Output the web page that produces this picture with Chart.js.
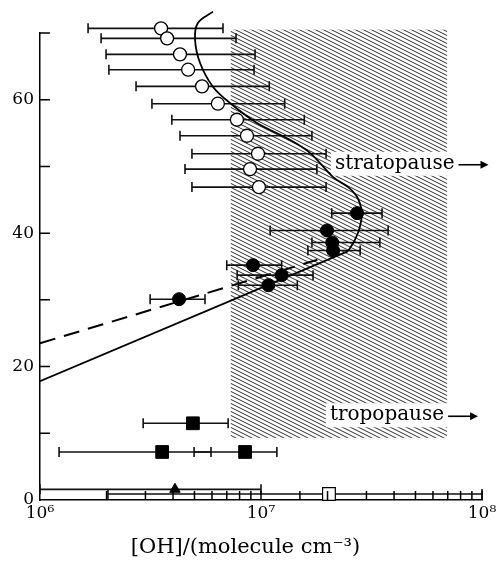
<!DOCTYPE html>
<html lang="en">
<head>
  <meta charset="UTF-8" />
  <title>OH profile</title>
  <script src="https://cdn.jsdelivr.net/npm/chart.js"></script>
  <style>
    body { margin: 0; background: #fff; }
  </style>
</head>
<body>
  <canvas id="ohChart" width="500" height="564"></canvas>
  <script>
    // open circles (upper stratosphere / mesosphere)
    const openX  = [3.53e6, 3.76e6, 4.30e6, 4.68e6, 5.41e6, 6.38e6, 7.78e6, 8.64e6, 9.69e6, 8.92e6, 9.79e6];
    const openY  = [70.7, 69.2, 66.8, 64.5, 62.0, 59.4, 57.0, 54.6, 51.9, 49.6, 46.9];
    const openLo = [1.65e6, 1.89e6, 1.99e6, 2.05e6, 2.72e6, 3.21e6, 3.95e6, 4.30e6, 4.87e6, 4.53e6, 4.87e6];
    const openHi = [6.73e6, 7.71e6, 9.4e6, 9.3e6, 1.09e7, 1.28e7, 1.57e7, 1.70e7, 1.97e7, 1.79e7, 1.97e7];

    // filled circles
    const fullX  = [2.72e7, 1.99e7, 2.10e7, 2.12e7, 9.2e6, 1.24e7, 1.08e7, 4.26e6];
    const fullY  = [43.0, 40.4, 38.6, 37.4, 35.2, 33.7, 32.2, 30.1];
    const fullLo = [2.09e7, 1.10e7, 1.70e7, 1.63e7, 7.0e6, 7.8e6, 7.9e6, 3.15e6];
    const fullHi = [3.53e7, 3.76e7, 3.45e7, 2.81e7, 1.24e7, 1.72e7, 1.46e7, 5.58e6];

    // filled squares (troposphere)
    const sqX  = [4.92e6, 3.57e6, 8.47e6];
    const sqY  = [11.5, 7.2, 7.2];
    const sqLo = [2.93e6, 1.22e6, 4.98e6];
    const sqHi = [7.1e6, 5.94e6, 1.18e7];

    // ground level: triangle and open square
    const triX = [4.08e6], triY = [1.6], triLo = [1.0e6], triHi = [1.0e7];
    const osqX = [2.03e7], osqY = [0.9], osqLo = [2.03e6], osqHi = [1.0e8];

    // model curves: straight lower part, then the bend up to the mesosphere
    const lineX = [1e6, 2.48e7];
    const lineY = [17.8, 37.3];
    const curveX = [2.48e7, 2.66e7, 2.80e7, 2.86e7, 2.80e7, 2.69e7, 2.48e7, 2.12e7, 1.67e7,
                    1.35e7, 9.59e6, 7.24e6, 6.07e6, 5.30e6, 5.03e6, 5.18e6, 6.07e6];
    const curveY = [37.3, 39.0, 40.9, 43.0, 44.5, 45.7, 46.9, 48.4, 52.0,
                    54.0, 56.5, 59.5, 61.9, 65.5, 69.0, 71.5, 73.2];
    const dashX = [1e6, 1.8e7];
    const dashY = [23.5, 36.0];

    // shaded band
    const bandX = [7.3e6, 6.95e7];
    const bandY = [9.3, 70.5];

    const SERIF = '"DejaVu Serif", "Liberation Serif", serif';
    const pts = (xs, ys) => xs.map((v, i) => ({ x: v, y: ys[i] }));
    const sup = { 6: '⁶', 7: '⁷', 8: '⁸' };

    function hatchPattern(ctx) {
      const c = document.createElement('canvas');
      c.width = 8; c.height = 4;
      const g = c.getContext('2d');
      g.strokeStyle = '#222';
      g.lineWidth = 0.95;
      g.beginPath();
      [-4, 0, 4].forEach(k => {
        g.moveTo(-2, -1 + k); g.lineTo(10, 5 + k);
      });
      g.stroke();
      return ctx.createPattern(c, 'repeat');
    }

    function arrow(ctx, x0, x1, y) {
      ctx.beginPath();
      ctx.moveTo(x0, y); ctx.lineTo(x1 - 6, y);
      ctx.stroke();
      ctx.beginPath();
      ctx.moveTo(x1, y); ctx.lineTo(x1 - 8, y - 4); ctx.lineTo(x1 - 8, y + 4);
      ctx.closePath(); ctx.fill();
    }

    const hatch = {
      id: 'hatch',
      beforeDatasetsDraw(chart) {
        const { ctx, scales: { x, y } } = chart;
        const x0 = x.getPixelForValue(bandX[0]), x1 = x.getPixelForValue(bandX[1]);
        const y0 = y.getPixelForValue(bandY[1]), y1 = y.getPixelForValue(bandY[0]);
        ctx.save();
        ctx.fillStyle = hatchPattern(ctx);
        ctx.fillRect(x0, y0, x1 - x0, y1 - y0);

        // labels
        ctx.font = '20px ' + SERIF;
        ctx.textBaseline = 'middle';
        [['stratopause', 2.16e7, 50.4], ['tropopause', 2.05e7, 12.7]].forEach(([t, vx, vy]) => {
          const px = x.getPixelForValue(vx), py = y.getPixelForValue(vy);
          const w = ctx.measureText(t).width;
          ctx.fillStyle = '#fff';
          ctx.fillRect(px - 4, py - 12, w + 8, 24);
          ctx.fillStyle = '#000';
          ctx.fillText(t, px, py);
          ctx.strokeStyle = '#000';
          ctx.lineWidth = 1.6;
          arrow(ctx, px + w + 4, px + w + 34, py + 1);
        });
        ctx.restore();
      }
    };

    const errorBars = {
      id: 'errorBars',
      beforeDatasetsDraw(chart) {
        const { ctx, scales: { x, y } } = chart;
        ctx.save();
        ctx.strokeStyle = '#111';
        ctx.lineWidth = 1.6;
        chart.data.datasets.forEach(ds => {
          if (!ds.lo) return;
          ds.data.forEach((p, i) => {
            const py = y.getPixelForValue(p.y);
            const x0 = x.getPixelForValue(ds.lo[i]);
            const x1 = x.getPixelForValue(ds.hi[i]);
            ctx.beginPath();
            ctx.moveTo(x0, py); ctx.lineTo(x1, py);
            ctx.moveTo(x0, py - 5); ctx.lineTo(x0, py + 5);
            ctx.moveTo(x1, py - 5); ctx.lineTo(x1, py + 5);
            ctx.stroke();
          });
        });
        ctx.restore();
      }
    };

    // inward ticks and the x-axis title (centred a little left of the plot centre)
    const axisExtras = {
      id: 'axisExtras',
      afterDraw(chart) {
        const { ctx, chartArea: a, scales: { x, y } } = chart;
        ctx.save();
        ctx.strokeStyle = '#000';
        ctx.lineWidth = 1.5;
        ctx.beginPath();
        y.ticks.forEach(t => {
          if (t.value <= 0) return;
          const py = y.getPixelForValue(t.value);
          ctx.moveTo(a.left, py); ctx.lineTo(a.left + 10, py);
        });
        x.ticks.forEach(t => {
          if (t.value <= 1e6) return;
          const px = x.getPixelForValue(t.value);
          ctx.moveTo(px, a.bottom); ctx.lineTo(px, a.bottom - 9);
        });
        ctx.stroke();

        ctx.fillStyle = '#000';
        ctx.font = '21px ' + SERIF;
        ctx.textAlign = 'center';
        ctx.textBaseline = 'middle';
        ctx.fillText('[OH]/(molecule cm⁻³)', x.getPixelForValue(8.5e6), a.bottom + 48);
        ctx.restore();
      }
    };

    const ctx = document.getElementById('ohChart').getContext('2d');
    new Chart(ctx, {
      type: 'scatter',
      data: {
        datasets: [
          {
            type: 'line', data: pts(lineX, lineY), borderColor: '#000', borderWidth: 1.8,
            pointRadius: 0, tension: 0
          },
          {
            type: 'line', data: pts(curveX, curveY), borderColor: '#000', borderWidth: 1.8,
            pointRadius: 0, tension: 0.35, clip: false
          },
          {
            type: 'line', data: pts(dashX, dashY), borderColor: '#000', borderWidth: 2,
            borderDash: [16, 9], pointRadius: 0, clip: false
          },
          {
            data: pts(openX, openY), lo: openLo, hi: openHi, pointStyle: 'circle', pointRadius: 6.5,
            backgroundColor: '#fff', borderColor: '#000', borderWidth: 1.3, clip: false
          },
          {
            data: pts(fullX, fullY), lo: fullLo, hi: fullHi, pointStyle: 'circle', pointRadius: 6.5,
            backgroundColor: '#000', borderColor: '#000', borderWidth: 1, clip: false
          },
          {
            data: pts(sqX, sqY), lo: sqLo, hi: sqHi, pointStyle: 'rect', pointRadius: 9,
            backgroundColor: '#000', borderColor: '#000', borderWidth: 1
          },
          {
            data: pts(triX, triY), lo: triLo, hi: triHi, pointStyle: 'triangle', pointRadius: 6,
            backgroundColor: '#000', borderColor: '#000', borderWidth: 1, clip: false
          },
          {
            data: pts(osqX, osqY), lo: osqLo, hi: osqHi, pointStyle: 'rect', pointRadius: 9,
            backgroundColor: '#fff', borderColor: '#000', borderWidth: 1.2, clip: false
          }
        ]
      },
      options: {
        responsive: false,
        animation: false,
        layout: { padding: { top: 33, right: 18, left: 0, bottom: 0 } },
        plugins: { legend: { display: false }, tooltip: { enabled: false } },
        scales: {
          x: {
            type: 'logarithmic',
            min: 1e6,
            max: 1e8,
            afterFit: s => { s.height = 64; },
            grid: { display: false, drawTicks: false },
            border: { display: true, color: '#000', width: 1.5 },
            ticks: {
              autoSkip: false,
              maxRotation: 0,
              padding: 3,
              color: '#000',
              font: { family: SERIF, size: 17 },
              callback: v => {
                const e = Math.log10(v);
                return Math.abs(e - Math.round(e)) < 1e-9 ? '10' + sup[Math.round(e)] : '';
              }
            }
          },
          y: {
            min: 0,
            max: 70,
            afterFit: s => { s.width = 40; },
            grid: { display: false, drawTicks: false },
            border: { display: true, color: '#000', width: 1.5 },
            ticks: {
              stepSize: 10,
              padding: 6,
              color: '#000',
              font: { family: SERIF, size: 17 },
              callback: v => (v % 20 === 0 ? v : '')
            }
          }
        }
      },
      plugins: [hatch, errorBars, axisExtras]
    });
  </script>
</body>
</html>
